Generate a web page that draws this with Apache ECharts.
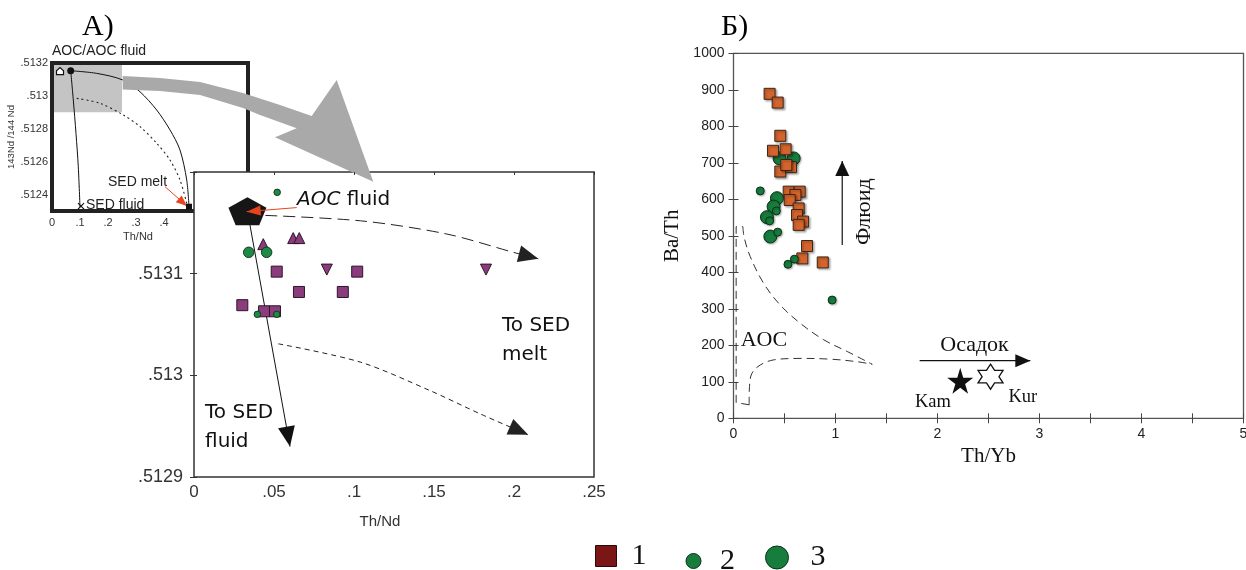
<!DOCTYPE html>
<html>
<head>
<meta charset="utf-8">
<script src="https://cdn.jsdelivr.net/npm/echarts@6/dist/echarts.min.js"></script>
<style>
  html, body { margin: 0; padding: 0; background: #fff; }
  #chart { width: 1246px; height: 570px; }
</style>
</head>
<body>
<div id="chart"></div>
<script>
// ---------- Panel A, inset: 143Nd/144Nd vs Th/Nd, mixing curves ----------
const insetAocTag    = [[0.0286, 0.513151]];
const insetAocPoint  = [[0.0668, 0.513153]];
const insetSedFluid  = [[0.1036, 0.51233]];
const insetSedMelt   = [[0.4893, 0.512326]];
const insetFluidCurve = [[0.0668,0.513153],[0.0761,0.512975],[0.0857,0.512772],[0.0939,0.512569],[0.1,0.512322]];
const insetMeltCurve  = [[0.0668,0.513153],[0.1596,0.513137],[0.2525,0.513097],[0.3143,0.513025],[0.3739,0.512914],[0.4214,0.512793],[0.4571,0.512671],[0.4811,0.512489],[0.4893,0.512326]];
const insetMixCurve   = [[0.0882,0.512985],[0.1714,0.512955],[0.2546,0.512884],[0.3143,0.512813],[0.3739,0.512712],[0.4214,0.51261],[0.4571,0.512489],[0.4811,0.512347]];
const insetMeltPointer = [[0.4036,0.512448],[0.482,0.51233]];
const zoomWindow = [[0, 0.5129], [0.25, 0.5132]];
const zoomArrow = [[0.2525,0.513121],[0.3857,0.513109],[0.5286,0.513084],[0.6821,0.513018],[0.8143,0.512945],[0.9275,0.512878],
                   [1.0168,0.513097],[1.1475,0.512478],[0.7964,0.512748],
                   [0.8739,0.512803],[0.7429,0.512884],[0.6821,0.512926],[0.5286,0.513005],[0.3857,0.51303],[0.2525,0.513039]];
const insetXTicks = [0, 0.1, 0.2, 0.3, 0.4];
const insetYTicks = [0.5124, 0.5126, 0.5128, 0.513, 0.5132];

// ---------- Panel A, main: enlarged window ----------
const aocFluidPoint = [[0.0334, 0.5131615]];
const squaresA   = [[0.0517,0.513102],[0.102,0.513102],[0.0656,0.513082],[0.093,0.513082],[0.0302,0.513069],[0.0438,0.513063],[0.0506,0.513063]];
const triUpA     = [[0.0433,0.513129],[0.062,0.513135],[0.0658,0.513135]];
const triDownA   = [[0.083,0.513104],[0.1825,0.513104]];
const dotsSmallA = [[0.052,0.51318],[0.0396,0.51306],[0.0517,0.51306]];
const dotsMedA   = [[0.0342,0.513121],[0.0454,0.513121]];
const toFluidPath = [[0.0334,0.5131615],[0.06,0.51293]];
const toMeltUpper = [[0.0334,0.513158],[0.104,0.513152],[0.158,0.513139],[0.1996,0.513121],[0.2152,0.5131146]];
const toMeltLower = [[0.0527,0.513031],[0.104,0.513013],[0.1475,0.512985],[0.179,0.512962],[0.2089,0.5129415]];
const aocPointer  = [[0.0642,0.513165],[0.0329,0.513161]];
const mainAXTicks = [0, 0.05, 0.1, 0.15, 0.2, 0.25];
const mainAYTicks = [0.5129, 0.513, 0.5131];

// ---------- Panel B: Ba/Th vs Th/Yb ----------
const squaresB = [[0.354,889],[0.433,865],[0.459,774],[0.387,733],[0.511,737],[0.459,676],[0.564,688],[0.518,694],
                  [0.541,621],[0.649,621],[0.607,612],[0.551,598],[0.639,575],[0.623,557],[0.682,539],[0.639,530],
                  [0.721,472],[0.675,438],[0.875,427]];
const circlesSmallB = [[0.262,623],[0.420,568],[0.354,541],[0.433,510],[0.597,436],[0.534,422],[0.967,324]];
const circlesLargeB = [[0.452,712],[0.59,712],[0.426,603],[0.393,580],[0.328,551],[0.361,498]];
const kamPoint = [[2.223,103]];
const kurPoint = [[2.52,114]];
const aocBracket = [[0.154,37],[0.026,43],[0.026,525],[0.092,525]];
const aocUpper = [[0.092,525],[0.105,495],[0.164,443],[0.295,370],[0.459,310],[0.656,260],[0.885,215],[1.115,183],[1.36,148]];
const aocLower = [[0.154,37],[0.157,87],[0.18,123],[0.262,146],[0.393,160],[0.623,164],[0.951,162],[1.213,155],[1.36,148]];
const fluidArrow = [[1.066,475],[1.066,705]];
const sedimentArrow = [[1.825,158],[2.91,158]];
const bXTicks = [0, 1, 2, 3, 4, 5];

// ---------- text annotations (anchored in data units) ----------
const insetTexts = [
  { text: 'AOC/AOC fluid', at: [0, 0.513273] },
  { text: 'SED melt',      at: [0.2, 0.512478] },
  { text: 'SED fluid',     at: [0.1214, 0.512336] }
];
const mainATexts = [
  { text: '{i|AOC} fluid', at: [0.0644, 0.513173] },
  { text: 'To SED\nmelt',  at: [0.1925, 0.513034] },
  { text: 'To SED\nfluid', at: [0.0069, 0.512949] }
];
const bTexts = [
  { text: 'AOC',    at: [0.298, 214.5], kind: 'big',   align: 'center' },
  { text: 'Осадок', at: [2.363, 201],   kind: 'big',   align: 'center' },
  { text: 'Флюид',  at: [1.286, 566],   kind: 'big',   align: 'center', rotate: true },
  { text: 'Kam',    at: [1.955, 45.5],  kind: 'small', align: 'center' },
  { text: 'Kur',    at: [2.836, 59],    kind: 'small', align: 'center' }
];

// ---------- helpers ----------
const SANS = 'Liberation Sans';
const SERIF = 'Liberation Serif';
const HAND = 'DejaVu Sans';

function fmtTick(v) { return v === 0 ? '0' : String(+v.toPrecision(6)).replace(/^0\./, '.'); }
function pickTicks(list) { return v => list.some(t => Math.abs(t - v) < 1e-9) ? fmtTick(v) : ''; }

function headPoints(a, b, len, wid) {
  const dx = b[0] - a[0], dy = b[1] - a[1];
  const d = Math.hypot(dx, dy) || 1, ux = dx / d, uy = dy / d;
  const bx = b[0] - ux * len, by = b[1] - uy * len;
  return [[b[0], b[1]], [bx - uy * wid / 2, by + ux * wid / 2], [bx + uy * wid / 2, by - ux * wid / 2]];
}

// polylines (optionally with filled arrow heads) drawn through the axes of one grid
function pathLayer(ax, lines, z) {
  return {
    type: 'custom', xAxisIndex: ax[0], yAxisIndex: ax[1], z: z, silent: true,
    data: [[lines[0].pts[0][0], lines[0].pts[0][1]]],
    renderItem(params, api) {
      const children = [];
      lines.forEach(l => {
        const px = l.pts.map(p => api.coord(p));
        const style = { stroke: l.stroke, lineWidth: l.width, fill: 'none' };
        if (l.dash) style.lineDash = l.dash;
        children.push({ type: 'polyline', shape: { points: px, smooth: l.smooth || 0 }, style });
        if (l.head) {
          children.push({ type: 'polygon',
            shape: { points: headPoints(px[px.length - 2], px[px.length - 1], l.head[0], l.head[1]) },
            style: { fill: l.headFill || l.stroke } });
        }
      });
      return { type: 'group', children };
    }
  };
}

function textLayer(ax, items, styleOf, z) {
  return {
    type: 'custom', xAxisIndex: ax[0], yAxisIndex: ax[1], z: z, silent: true,
    data: items.map(t => [t.at[0], t.at[1]]),
    renderItem(params, api) {
      const t = items[params.dataIndex];
      const p = api.coord(t.at);
      return { type: 'text', x: p[0], y: p[1], rotation: t.rotate ? Math.PI / 2 : 0,
               style: Object.assign({ text: t.text }, styleOf(t)) };
    }
  };
}

const STAR5 = 'path://M50,0 L61,35 L98,35 L68,57 L79,91 L50,70 L21,91 L32,57 L2,35 L39,35 Z';
const STAR6 = 'path://M50,0 L64,25 L93,25 L79,50 L93,75 L64,75 L50,100 L36,75 L7,75 L21,50 L7,25 L36,25 Z';
const PENTAGON = 'path://M50,0 L100,38 L81,100 L19,100 L0,38 Z';
const HOUSE = 'path://M0,45 L50,0 L100,45 L100,100 L0,100 Z';
const CROSS = 'path://M0,0 L100,100 M100,0 L0,100';

const purple = { color: '#8b3c7c', borderColor: '#2a1628', borderWidth: 1, opacity: 1 };
const greenA = { color: '#1d8a45', borderColor: '#0f3a1f', borderWidth: 1, opacity: 1 };
const orangeB = { color: '#d4642d', borderColor: '#3a2416', borderWidth: 1, opacity: 1,
                  shadowColor: 'rgba(0,0,0,0.3)', shadowBlur: 2, shadowOffsetX: 1.5, shadowOffsetY: 1.5 };
const greenB = { color: '#177d3d', borderColor: '#0b3118', borderWidth: 1, opacity: 1,
                 shadowColor: 'rgba(0,0,0,0.25)', shadowBlur: 2, shadowOffsetX: 1, shadowOffsetY: 1 };

function scatter(name, ax, data, symbol, size, itemStyle, z, extra) {
  return Object.assign({ type: 'scatter', name, xAxisIndex: ax[0], yAxisIndex: ax[1], data, symbol,
    symbolSize: size, itemStyle: Object.assign({ opacity: 1 }, itemStyle), z, silent: true,
    emphasis: { disabled: true } }, extra || {});
}

function legendItem(name, icon, color, border) {
  return { name, icon, itemStyle: { color, borderColor: border, borderWidth: 1, opacity: 1,
           shadowBlur: 0, shadowOffsetX: 0, shadowOffsetY: 0 } };
}

const INSET = [0, 0], MAINA = [1, 1], PANB = [3, 3];
const noLine = { show: false };
const legendText = pad => ({ fontFamily: SERIF, fontSize: 30, color: '#111', padding: [0, 0, 0, pad] });

const option = {
  animation: false,
  backgroundColor: '#fff',
  title: [
    { text: 'A)', left: 82, top: 12, padding: 0,
      textStyle: { fontFamily: SERIF, fontSize: 30, fontWeight: 'normal', color: '#000' } },
    { text: 'Б)', left: 721, top: 12, padding: 0,
      textStyle: { fontFamily: SERIF, fontSize: 30, fontWeight: 'normal', color: '#000' } }
  ],
  legend: [
    { data: [legendItem('1', 'rect', '#7b1616', '#2a0a0a')],
      left: 595, top: 541, padding: 0, itemWidth: 21, itemHeight: 21, selectedMode: false, textStyle: legendText(10) },
    { data: [legendItem('2', 'circle', '#177d3d', '#0b3118')],
      left: 685.5, top: 546, padding: 0, itemWidth: 15, itemHeight: 15, selectedMode: false, textStyle: legendText(14) },
    { data: [legendItem('3', 'circle', '#177d3d', '#0b3118')],
      left: 765, top: 542.5, padding: 0, itemWidth: 23, itemHeight: 23, selectedMode: false, textStyle: legendText(17) }
  ],
  grid: [
    { left: 52, top: 63, width: 196, height: 148, show: true, borderColor: '#222', borderWidth: 4,
      z: 1, outerBoundsMode: 'none', containLabel: false },
    { left: 194, top: 172, width: 400, height: 305, show: true, backgroundColor: '#fff',
      borderColor: '#333', borderWidth: 1.5, z: 5, outerBoundsMode: 'none', containLabel: false },
    { left: 733.5, top: 53.3, width: 510, height: 365, show: true, borderColor: '#555', borderWidth: 1.3,
      z: 0, outerBoundsMode: 'none', containLabel: false }
  ],
  xAxis: [
    { gridIndex: 0, type: 'value', min: 0, max: 0.7, interval: 0.1, position: 'bottom', z: 0,
      axisLine: noLine, axisTick: noLine, splitLine: noLine,
      axisLabel: { fontFamily: SANS, fontSize: 11, color: '#333', margin: 6, formatter: pickTicks(insetXTicks) },
      name: 'Th/Nd', nameLocation: 'middle', nameGap: 20,
      nameTextStyle: { fontFamily: SANS, fontSize: 11, color: '#333', padding: [0, 24, 0, 0] } },
    { gridIndex: 1, type: 'value', min: 0, max: 0.25, interval: 0.05, position: 'bottom', z: 6,
      axisLine: noLine, axisTick: noLine, splitLine: noLine,
      axisLabel: { fontFamily: SANS, fontSize: 17, color: '#333', margin: 7, formatter: pickTicks(mainAXTicks) },
      name: 'Th/Nd', nameLocation: 'middle', nameGap: 37,
      nameTextStyle: { fontFamily: SANS, fontSize: 15, color: '#333', padding: [0, 28, 0, 0] } },
    { gridIndex: 1, type: 'value', min: 0, max: 0.25, interval: 0.05, position: 'top', z: 6,
      axisLine: noLine, splitLine: noLine, axisLabel: noLine,
      axisTick: { show: true, inside: true, length: 3, lineStyle: { color: '#333' } } },
    { gridIndex: 2, type: 'value', min: 0, max: 5, interval: 0.5, position: 'bottom', z: 1,
      axisLine: noLine, splitLine: noLine,
      axisTick: { show: true, inside: true, length: 5, lineStyle: { color: '#444' } },
      axisLabel: { fontFamily: SANS, fontSize: 14, color: '#222', margin: 9, formatter: pickTicks(bXTicks) },
      name: 'Th/Yb', nameLocation: 'middle', nameGap: 28,
      nameTextStyle: { fontFamily: SERIF, fontSize: 21, color: '#111' } },
    { gridIndex: 2, type: 'value', min: 0, max: 5, interval: 0.5, position: 'top', z: 1,
      axisLine: noLine, splitLine: noLine, axisLabel: noLine,
      axisTick: { show: true, inside: true, length: 5, lineStyle: { color: '#444' } } }
  ],
  yAxis: [
    { gridIndex: 0, type: 'value', min: 0.5123, max: 0.5132, interval: 0.0001, position: 'left', z: 0,
      axisLine: noLine, axisTick: noLine, splitLine: noLine,
      axisLabel: { fontFamily: SANS, fontSize: 11, color: '#333', margin: 4, formatter: pickTicks(insetYTicks) },
      name: '143Nd /144 Nd', nameLocation: 'middle', nameGap: 31,
      nameTextStyle: { fontFamily: SANS, fontSize: 9.5, color: '#333' } },
    { gridIndex: 1, type: 'value', min: 0.5129, max: 0.5132, interval: 0.0001, position: 'left', z: 6,
      axisLine: noLine, splitLine: noLine,
      axisTick: { show: true, inside: true, length: 3, lineStyle: { color: '#333' } },
      axisLabel: { fontFamily: SANS, fontSize: 18, color: '#333', margin: 11, formatter: pickTicks(mainAYTicks) } },
    { gridIndex: 1, type: 'value', min: 0.5129, max: 0.5132, interval: 0.0001, position: 'right', z: 6,
      axisLine: noLine, splitLine: noLine, axisLabel: noLine,
      axisTick: { show: true, inside: true, length: 4, lineStyle: { color: '#333' } } },
    { gridIndex: 2, type: 'value', min: 0, max: 1000, interval: 100, position: 'left', z: 1,
      axisLine: noLine, splitLine: noLine,
      axisTick: { show: true, inside: true, length: 5, lineStyle: { color: '#444' } },
      axisLabel: { fontFamily: SANS, fontSize: 14, color: '#222', margin: 9, formatter: fmtTick },
      name: 'Ba/Th', nameLocation: 'middle', nameGap: 51,
      nameTextStyle: { fontFamily: SERIF, fontSize: 21, color: '#111' } },
    { gridIndex: 2, type: 'value', min: 0, max: 1000, interval: 100, position: 'right', z: 1,
      axisLine: noLine, splitLine: noLine, axisLabel: noLine,
      axisTick: { show: true, inside: true, length: 5, lineStyle: { color: '#444' } } }
  ],
  series: [
    // inset: shaded window that is enlarged in the main frame
    {
      type: 'custom', xAxisIndex: 0, yAxisIndex: 0, z: 0, silent: true, data: [[0, 0.5129]],
      renderItem(params, api) {
        const a = api.coord(zoomWindow[0]), b = api.coord(zoomWindow[1]);
        return { type: 'rect', shape: { x: a[0], y: b[1], width: b[0] - a[0], height: a[1] - b[1] },
                 style: { fill: '#c4c4c4' } };
      }
    },
    pathLayer(INSET, [
      { pts: insetFluidCurve, stroke: '#111', width: 1, smooth: 0.3 },
      { pts: insetMeltCurve, stroke: '#111', width: 1, smooth: 0.3 },
      { pts: insetMixCurve, stroke: '#222', width: 1.1, smooth: 0.3, dash: [2, 3] }
    ], 2),
    pathLayer(INSET, [{ pts: insetMeltPointer, stroke: '#e8431f', width: 1, head: [11, 9] }], 3),
    scatter('inset-tag', INSET, insetAocTag, HOUSE, 7, { color: '#fff', borderColor: '#111', borderWidth: 1.2 }, 3),
    scatter('inset-aoc', INSET, insetAocPoint, 'circle', 7, { color: '#111' }, 3),
    scatter('inset-sedfluid', INSET, insetSedFluid, CROSS, 6, { color: 'none', borderColor: '#111', borderWidth: 1.2 }, 3),
    scatter('inset-sedmelt', INSET, insetSedMelt, 'rect', 6, { color: '#111' }, 3),
    textLayer(INSET, insetTexts, () => ({ fontFamily: SANS, fontSize: 14, fill: '#222',
      align: 'left', verticalAlign: 'middle' }), 3),
    // grey arrow from the shaded window towards the enlarged frame
    {
      type: 'custom', xAxisIndex: 0, yAxisIndex: 0, z: 6, silent: true, data: [[zoomArrow[0][0], zoomArrow[0][1]]],
      renderItem(params, api) {
        return { type: 'polygon', shape: { points: zoomArrow.map(p => api.coord(p)) },
                 style: { fill: '#a9a9a9' } };
      }
    },

    // panel A main frame
    pathLayer(MAINA, [
      { pts: toFluidPath, stroke: '#111', width: 1, head: [20, 17] },
      { pts: toMeltUpper, stroke: '#222', width: 1, smooth: 0.3, dash: [12, 6], head: [20, 17] },
      { pts: toMeltLower, stroke: '#222', width: 1, smooth: 0.3, dash: [5, 4], head: [20, 17] }
    ], 7),
    scatter('A-squares', MAINA, squaresA, 'rect', 11, purple, 8),
    scatter('A-tri-up', MAINA, triUpA, 'triangle', 11, purple, 8),
    scatter('A-tri-down', MAINA, triDownA, 'triangle', 11, purple, 8, { symbolRotate: 180 }),
    scatter('A-dots-med', MAINA, dotsMedA, 'circle', 10.5, greenA, 8),
    scatter('A-dots-small', MAINA, dotsSmallA, 'circle', 6.5, greenA, 9),
    scatter('A-aoc', MAINA, aocFluidPoint, PENTAGON, [38, 28], { color: '#161616' }, 9),
    pathLayer(MAINA, [{ pts: aocPointer, stroke: '#e8431f', width: 1, head: [14, 10] }], 10),
    textLayer(MAINA, mainATexts, () => ({ fontFamily: HAND, fontSize: 20, fill: '#111', lineHeight: 29,
      align: 'left', verticalAlign: 'middle',
      rich: { i: { fontFamily: HAND, fontSize: 20, fontStyle: 'italic', fill: '#111' } } }), 10),

    // panel B
    pathLayer(PANB, [
      { pts: aocBracket, stroke: '#333', width: 1, dash: [8, 5] },
      { pts: aocUpper, stroke: '#333', width: 1, smooth: 0.35, dash: [8, 5] },
      { pts: aocLower, stroke: '#333', width: 1, smooth: 0.35, dash: [8, 5] }
    ], 2),
    pathLayer(PANB, [
      { pts: fluidArrow, stroke: '#111', width: 1.2, head: [15, 14] },
      { pts: sedimentArrow, stroke: '#111', width: 1.2, head: [15, 13] }
    ], 2),
    scatter('3', PANB, circlesLargeB, 'circle', 13, greenB, 3),
    scatter('1', PANB, squaresB, 'rect', 11, orangeB, 4),
    scatter('2', PANB, circlesSmallB, 'circle', 8, greenB, 5),
    scatter('Kam', PANB, kamPoint, STAR5, 26, { color: '#111' }, 5),
    scatter('Kur', PANB, kurPoint, STAR6, 25, { color: '#fff', borderColor: '#111', borderWidth: 1.3 }, 5),
    textLayer(PANB, bTexts, t => ({ fontFamily: SERIF, fontSize: t.kind === 'big' ? 22 : 18.5, fill: '#111',
      align: t.align, verticalAlign: 'middle' }), 6)
  ]
};

const chart = echarts.init(document.getElementById('chart'), null, { renderer: 'canvas' });
chart.setOption(option);
</script>
</body>
</html>
